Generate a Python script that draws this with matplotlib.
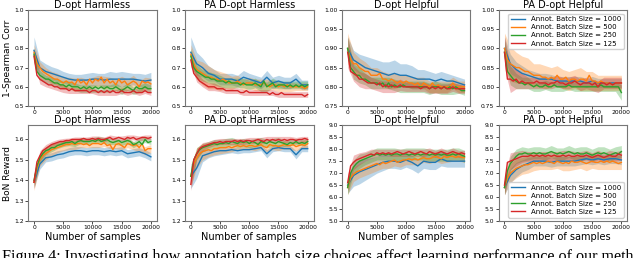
import numpy as np
import matplotlib.pyplot as plt

# x grids (blue logged every 1000 samples, the others every 500)
x_coarse = np.arange(0, 20001, 1000)
x_fine = np.arange(0, 20001, 500)

titles = ["D-opt Harmless", "PA D-opt Harmless", "D-opt Helpful", "PA D-opt Helpful"] * 2
labels = ["Annot. Batch Size = 1000", "Annot. Batch Size = 500",
          "Annot. Batch Size = 250", "Annot. Batch Size = 125"]
colors = ["#1f77b4", "#ff7f0e", "#2ca02c", "#d62728"]

# ---- top row: 1-Spearman Corr ----
p1_blue = [0.79, 0.70, 0.68, 0.67, 0.66, 0.65, 0.64, 0.635, 0.635, 0.635, 0.64, 0.64, 0.635,
           0.64, 0.64, 0.64, 0.64, 0.64, 0.635, 0.63, 0.635]
p1_orange = [0.78, 0.72, 0.70, 0.68, 0.67, 0.66, 0.65, 0.64, 0.64, 0.63, 0.62, 0.63, 0.62, 0.625,
             0.61, 0.64, 0.62, 0.63, 0.61, 0.64, 0.62, 0.64, 0.63, 0.65, 0.62, 0.64, 0.62, 0.63,
             0.61, 0.64, 0.62, 0.63, 0.61, 0.62, 0.63, 0.62, 0.60, 0.63, 0.62, 0.625, 0.615]
p1_green = [0.77, 0.68, 0.66, 0.65, 0.64, 0.64, 0.63, 0.62, 0.62, 0.61, 0.61, 0.60, 0.61, 0.60,
            0.60, 0.60, 0.59, 0.60, 0.59, 0.60, 0.59, 0.60, 0.59, 0.60, 0.59, 0.60, 0.59, 0.59,
            0.60, 0.59, 0.58, 0.59, 0.60, 0.59, 0.58, 0.60, 0.59, 0.59, 0.60, 0.59, 0.59]
p1_red = [0.76, 0.66, 0.64, 0.63, 0.62, 0.61, 0.61, 0.60, 0.60, 0.59, 0.59, 0.59, 0.58, 0.59,
          0.58, 0.58, 0.58, 0.58, 0.58, 0.57, 0.58, 0.58, 0.57, 0.58, 0.57, 0.58, 0.57, 0.58,
          0.57, 0.57, 0.58, 0.57, 0.57, 0.57, 0.58, 0.57, 0.57, 0.57, 0.58, 0.57, 0.57]

p2_blue = [0.78, 0.72, 0.70, 0.67, 0.66, 0.64, 0.64, 0.64, 0.63, 0.65, 0.64, 0.63, 0.62, 0.65,
           0.62, 0.63, 0.62, 0.62, 0.64, 0.61, 0.61]
p2_orange = [0.77, 0.72, 0.69, 0.68, 0.67, 0.66, 0.65, 0.65, 0.64, 0.64, 0.63, 0.64, 0.63, 0.62,
             0.62, 0.62, 0.63, 0.62, 0.61, 0.62, 0.62, 0.62, 0.61, 0.61, 0.61, 0.62, 0.61, 0.60,
             0.61, 0.61, 0.60, 0.61, 0.60, 0.61, 0.60, 0.60, 0.60, 0.60, 0.60, 0.59, 0.60]
p2_green = [0.76, 0.70, 0.68, 0.67, 0.66, 0.65, 0.65, 0.64, 0.64, 0.63, 0.63, 0.63, 0.62, 0.63,
            0.62, 0.62, 0.62, 0.61, 0.62, 0.61, 0.61, 0.61, 0.62, 0.61, 0.60, 0.63, 0.60, 0.61,
            0.62, 0.60, 0.61, 0.61, 0.61, 0.60, 0.61, 0.60, 0.61, 0.60, 0.61, 0.60, 0.61]
p2_red = [0.74, 0.67, 0.65, 0.63, 0.62, 0.61, 0.60, 0.60, 0.60, 0.59, 0.59, 0.59, 0.58, 0.58,
          0.58, 0.58, 0.58, 0.57, 0.57, 0.58, 0.57, 0.57, 0.57, 0.57, 0.57, 0.57, 0.57, 0.56,
          0.57, 0.56, 0.56, 0.57, 0.56, 0.56, 0.56, 0.56, 0.56, 0.56, 0.56, 0.55, 0.56]

p3_blue = [0.90, 0.87, 0.86, 0.85, 0.845, 0.84, 0.835, 0.83, 0.835, 0.83, 0.83, 0.825, 0.82,
           0.82, 0.82, 0.815, 0.82, 0.815, 0.815, 0.81, 0.805]
p3_orange = [0.90, 0.87, 0.86, 0.86, 0.85, 0.845, 0.84, 0.84, 0.83, 0.83, 0.83, 0.835, 0.82,
             0.82, 0.815, 0.82, 0.815, 0.81, 0.815, 0.81, 0.815, 0.81, 0.81, 0.805, 0.81, 0.80,
             0.81, 0.805, 0.80, 0.81, 0.80, 0.805, 0.80, 0.80, 0.80, 0.80, 0.81, 0.80, 0.80,
             0.80, 0.80]
p3_green = [0.90, 0.85, 0.84, 0.83, 0.83, 0.82, 0.82, 0.815, 0.81, 0.81, 0.81, 0.805, 0.81,
            0.80, 0.81, 0.80, 0.805, 0.80, 0.80, 0.805, 0.80, 0.80, 0.80, 0.80, 0.80, 0.80,
            0.80, 0.80, 0.795, 0.80, 0.80, 0.80, 0.795, 0.80, 0.795, 0.80, 0.795, 0.80, 0.795,
            0.79, 0.79]
p3_red = [0.89, 0.84, 0.835, 0.83, 0.82, 0.82, 0.815, 0.81, 0.81, 0.81, 0.805, 0.81, 0.80,
          0.805, 0.80, 0.805, 0.80, 0.80, 0.805, 0.80, 0.80, 0.80, 0.80, 0.80, 0.80, 0.795,
          0.80, 0.80, 0.795, 0.80, 0.795, 0.80, 0.795, 0.80, 0.795, 0.795, 0.80, 0.795, 0.795,
          0.795, 0.795]

p4_blue = [0.90, 0.86, 0.845, 0.835, 0.83, 0.825, 0.82, 0.82, 0.82, 0.815, 0.815, 0.815, 0.815,
           0.815, 0.81, 0.815, 0.81, 0.81, 0.81, 0.81, 0.81]
p4_orange = [0.90, 0.87, 0.86, 0.855, 0.85, 0.85, 0.845, 0.84, 0.84, 0.835, 0.83, 0.83, 0.83,
             0.825, 0.825, 0.82, 0.825, 0.82, 0.83, 0.82, 0.82, 0.825, 0.815, 0.82, 0.82, 0.815,
             0.82, 0.82, 0.815, 0.83, 0.815, 0.815, 0.81, 0.815, 0.81, 0.81, 0.81, 0.805, 0.81,
             0.81, 0.81]
p4_green = [0.89, 0.84, 0.83, 0.82, 0.815, 0.81, 0.81, 0.805, 0.81, 0.805, 0.80, 0.805, 0.80,
            0.80, 0.805, 0.80, 0.80, 0.805, 0.80, 0.80, 0.80, 0.80, 0.805, 0.80, 0.80, 0.80,
            0.80, 0.80, 0.80, 0.80, 0.80, 0.80, 0.80, 0.805, 0.80, 0.80, 0.80, 0.80, 0.80, 0.80,
            0.785]
p4_red = [0.89, 0.82, 0.82, 0.815, 0.82, 0.81, 0.815, 0.81, 0.81, 0.81, 0.81, 0.815, 0.81,
          0.81, 0.81, 0.805, 0.81, 0.81, 0.815, 0.81, 0.81, 0.805, 0.81, 0.81, 0.815, 0.81,
          0.805, 0.81, 0.81, 0.81, 0.805, 0.81, 0.80, 0.81, 0.81, 0.805, 0.81, 0.805, 0.81,
          0.81, 0.81]

# ---- bottom row: BoN Reward ----
p5_blue = [1.39, 1.48, 1.51, 1.515, 1.525, 1.53, 1.54, 1.545, 1.545, 1.54, 1.545, 1.545, 1.54,
           1.545, 1.54, 1.545, 1.53, 1.535, 1.54, 1.53, 1.515]
p5_orange = [1.39, 1.46, 1.50, 1.52, 1.53, 1.54, 1.55, 1.555, 1.56, 1.565, 1.57, 1.575, 1.575,
             1.58, 1.575, 1.58, 1.58, 1.575, 1.58, 1.57, 1.58, 1.58, 1.58, 1.575, 1.585, 1.57,
             1.575, 1.55, 1.575, 1.58, 1.57, 1.56, 1.58, 1.575, 1.57, 1.575, 1.56, 1.58, 1.545,
             1.555, 1.555]
p5_green = [1.40, 1.47, 1.51, 1.53, 1.545, 1.55, 1.56, 1.56, 1.57, 1.575, 1.58, 1.585, 1.585,
            1.59, 1.58, 1.59, 1.595, 1.59, 1.59, 1.59, 1.595, 1.59, 1.60, 1.59, 1.595, 1.60,
            1.59, 1.585, 1.59, 1.595, 1.585, 1.59, 1.595, 1.59, 1.575, 1.58, 1.59, 1.575, 1.60,
            1.585, 1.59]
p5_red = [1.39, 1.49, 1.52, 1.545, 1.555, 1.565, 1.575, 1.58, 1.585, 1.59, 1.59, 1.595, 1.595,
          1.60, 1.60, 1.60, 1.60, 1.605, 1.60, 1.60, 1.605, 1.60, 1.605, 1.60, 1.60, 1.605,
          1.61, 1.60, 1.605, 1.61, 1.605, 1.60, 1.61, 1.605, 1.61, 1.60, 1.605, 1.61, 1.61,
          1.605, 1.61]

p6_blue = [1.42, 1.46, 1.52, 1.53, 1.54, 1.545, 1.545, 1.55, 1.545, 1.55, 1.55, 1.555, 1.56,
           1.53, 1.555, 1.56, 1.555, 1.555, 1.525, 1.555, 1.555]
p6_orange = [1.42, 1.48, 1.51, 1.53, 1.54, 1.545, 1.55, 1.545, 1.555, 1.555, 1.56, 1.56, 1.56,
             1.565, 1.56, 1.565, 1.57, 1.565, 1.57, 1.565, 1.57, 1.57, 1.565, 1.57, 1.575,
             1.565, 1.56, 1.575, 1.57, 1.57, 1.565, 1.57, 1.575, 1.57, 1.57, 1.575, 1.565,
             1.57, 1.575, 1.57, 1.58]
p6_green = [1.42, 1.50, 1.53, 1.55, 1.56, 1.565, 1.57, 1.575, 1.58, 1.575, 1.58, 1.58, 1.585,
            1.58, 1.59, 1.585, 1.58, 1.59, 1.585, 1.59, 1.58, 1.59, 1.585, 1.575, 1.59, 1.585,
            1.58, 1.59, 1.585, 1.58, 1.59, 1.585, 1.58, 1.575, 1.585, 1.58, 1.59, 1.58, 1.585,
            1.58, 1.59]
p6_red = [1.38, 1.50, 1.53, 1.555, 1.565, 1.57, 1.575, 1.58, 1.585, 1.585, 1.59, 1.585, 1.59,
          1.59, 1.59, 1.595, 1.59, 1.595, 1.59, 1.595, 1.595, 1.59, 1.595, 1.60, 1.595, 1.59,
          1.60, 1.595, 1.60, 1.595, 1.60, 1.595, 1.60, 1.595, 1.60, 1.60, 1.595, 1.60, 1.60,
          1.605, 1.60]

p7_blue = [6.5, 6.9, 7.05, 7.15, 7.25, 7.35, 7.45, 7.5, 7.5, 7.45, 7.55, 7.45, 7.3, 7.5, 7.45,
           7.45, 7.6, 7.5, 7.5, 7.5, 7.5]
p7_orange = [6.4, 6.8, 6.95, 7.05, 7.1, 7.15, 7.2, 7.25, 7.3, 7.35, 7.4, 7.35, 7.45, 7.4, 7.45,
             7.5, 7.55, 7.45, 7.5, 7.55, 7.55, 7.6, 7.55, 7.6, 7.55, 7.6, 7.65, 7.6, 7.6, 7.65,
             7.7, 7.65, 7.6, 7.7, 7.65, 7.7, 7.7, 7.65, 7.7, 7.65, 7.65]
p7_green = [6.4, 7.0, 7.25, 7.4, 7.5, 7.55, 7.6, 7.65, 7.7, 7.75, 7.8, 7.75, 7.8, 7.75, 7.8,
            7.75, 7.8, 7.8, 7.75, 7.8, 7.8, 7.75, 7.8, 7.75, 7.8, 7.75, 7.8, 7.8, 7.75, 7.8,
            7.75, 7.8, 7.75, 7.8, 7.75, 7.75, 7.8, 7.75, 7.8, 7.75, 7.7]
p7_red = [6.6, 7.3, 7.45, 7.55, 7.6, 7.65, 7.7, 7.75, 7.8, 7.75, 7.85, 7.8, 7.85, 7.8, 7.85,
          7.8, 7.85, 7.9, 7.85, 7.8, 7.85, 7.9, 7.85, 7.8, 7.85, 7.9, 7.85, 7.8, 7.9, 7.85,
          7.8, 7.85, 7.9, 7.85, 7.8, 7.85, 7.9, 7.85, 7.8, 7.85, 7.8]

p8_blue = [6.4, 6.9, 7.15, 7.3, 7.4, 7.5, 7.5, 7.5, 7.45, 7.5, 7.5, 7.5, 7.5, 7.55, 7.6, 7.55,
           7.6, 7.55, 7.6, 7.6, 7.55]
p8_orange = [6.4, 6.8, 7.0, 7.1, 7.2, 7.25, 7.3, 7.35, 7.35, 7.4, 7.45, 7.4, 7.45, 7.4, 7.45,
             7.5, 7.45, 7.4, 7.5, 7.45, 7.4, 7.45, 7.4, 7.5, 7.45, 7.45, 7.5, 7.45, 7.4, 7.45,
             7.5, 7.45, 7.45, 7.5, 7.45, 7.5, 7.45, 7.5, 7.45, 7.4, 7.45]
p8_green = [6.4, 7.1, 7.4, 7.55, 7.7, 7.8, 7.8, 7.85, 7.8, 7.8, 7.85, 7.8, 7.85, 7.8, 7.8,
            7.85, 7.9, 7.85, 7.8, 7.85, 7.8, 7.85, 7.9, 7.85, 7.8, 7.85, 7.8, 7.8, 7.85, 7.8,
            7.75, 7.8, 7.85, 7.8, 7.85, 7.8, 7.75, 7.8, 7.85, 7.8, 7.9]
p8_red = [6.5, 7.45, 7.5, 7.55, 7.6, 7.65, 7.7, 7.7, 7.7, 7.75, 7.7, 7.75, 7.7, 7.75, 7.7,
          7.75, 7.7, 7.75, 7.7, 7.7, 7.75, 7.7, 7.75, 7.7, 7.7, 7.75, 7.7, 7.7, 7.75, 7.7,
          7.65, 7.7, 7.75, 7.7, 7.65, 7.7, 7.75, 7.7, 7.7, 7.8, 7.75]

# band half-widths, one value per 1000 samples (blue, orange, green, red)
bw1 = [[0.07, 0.04, 0.04, 0.035, 0.035, 0.03, 0.03, 0.03, 0.03, 0.035, 0.035, 0.03, 0.035, 0.04, 0.035, 0.04, 0.035, 0.03, 0.035, 0.035, 0.04],
       [0.04, 0.03, 0.03, 0.03, 0.03, 0.03, 0.03, 0.035, 0.03, 0.03, 0.03, 0.03, 0.035, 0.03, 0.03, 0.035, 0.03, 0.03, 0.03, 0.03, 0.03],
       [0.03, 0.025, 0.02, 0.02, 0.02, 0.02, 0.02, 0.02, 0.02, 0.02, 0.02, 0.02, 0.02, 0.02, 0.02, 0.02, 0.02, 0.02, 0.02, 0.02, 0.02],
       [0.03, 0.025, 0.02, 0.02, 0.02, 0.02, 0.015, 0.015, 0.015, 0.015, 0.015, 0.015, 0.015, 0.015, 0.015, 0.015, 0.015, 0.015, 0.015, 0.015, 0.015]]
bw2 = [[0.08, 0.06, 0.05, 0.04, 0.03, 0.03, 0.03, 0.03, 0.03, 0.035, 0.03, 0.03, 0.03, 0.035, 0.03, 0.03, 0.03, 0.03, 0.03, 0.025, 0.025],
       [0.05, 0.05, 0.06, 0.06, 0.05, 0.05, 0.04, 0.035, 0.03, 0.03, 0.03, 0.03, 0.03, 0.03, 0.025, 0.025, 0.025, 0.025, 0.02, 0.02, 0.02],
       [0.04, 0.035, 0.03, 0.03, 0.03, 0.03, 0.025, 0.025, 0.025, 0.025, 0.025, 0.025, 0.025, 0.025, 0.025, 0.02, 0.02, 0.02, 0.02, 0.02, 0.02],
       [0.03, 0.025, 0.02, 0.02, 0.02, 0.015, 0.015, 0.015, 0.015, 0.015, 0.015, 0.015, 0.015, 0.015, 0.015, 0.015, 0.015, 0.015, 0.015, 0.015, 0.015]]
bw3 = [[0.03, 0.025, 0.025, 0.03, 0.03, 0.03, 0.03, 0.035, 0.035, 0.03, 0.03, 0.03, 0.025, 0.025, 0.02, 0.02, 0.02, 0.02, 0.015, 0.015, 0.015],
       [0.04, 0.03, 0.025, 0.025, 0.02, 0.02, 0.02, 0.02, 0.02, 0.015, 0.015, 0.015, 0.015, 0.015, 0.015, 0.015, 0.015, 0.015, 0.015, 0.015, 0.015],
       [0.03, 0.02, 0.02, 0.015, 0.015, 0.015, 0.015, 0.015, 0.015, 0.015, 0.015, 0.015, 0.015, 0.015, 0.015, 0.015, 0.015, 0.015, 0.015, 0.012, 0.012],
       [0.04, 0.02, 0.02, 0.02, 0.015, 0.015, 0.015, 0.015, 0.015, 0.015, 0.012, 0.012, 0.012, 0.012, 0.012, 0.012, 0.012, 0.012, 0.012, 0.012, 0.012]]
bw4 = [[0.03, 0.025, 0.02, 0.02, 0.015, 0.015, 0.015, 0.015, 0.012, 0.012, 0.012, 0.012, 0.012, 0.012, 0.012, 0.012, 0.012, 0.012, 0.012, 0.012, 0.012],
       [0.04, 0.045, 0.04, 0.035, 0.035, 0.03, 0.03, 0.03, 0.025, 0.025, 0.025, 0.025, 0.025, 0.03, 0.025, 0.025, 0.02, 0.02, 0.02, 0.02, 0.02],
       [0.03, 0.025, 0.02, 0.015, 0.015, 0.012, 0.012, 0.012, 0.012, 0.012, 0.012, 0.012, 0.012, 0.012, 0.012, 0.012, 0.012, 0.012, 0.012, 0.012, 0.02],
       [0.04, 0.035, 0.025, 0.02, 0.015, 0.015, 0.015, 0.015, 0.015, 0.015, 0.015, 0.015, 0.015, 0.015, 0.015, 0.015, 0.015, 0.015, 0.015, 0.015, 0.015]]
bw5 = [[0.03, 0.025, 0.02, 0.02, 0.02, 0.02, 0.02, 0.02, 0.02, 0.02, 0.02, 0.02, 0.02, 0.02, 0.02, 0.02, 0.02, 0.02, 0.02, 0.02, 0.02],
       [0.04, 0.03, 0.03, 0.03, 0.025, 0.025, 0.025, 0.025, 0.02, 0.02, 0.02, 0.02, 0.02, 0.02, 0.02, 0.02, 0.02, 0.02, 0.02, 0.02, 0.02],
       [0.03, 0.025, 0.02, 0.02, 0.015, 0.015, 0.015, 0.015, 0.015, 0.015, 0.015, 0.015, 0.015, 0.015, 0.015, 0.015, 0.015, 0.015, 0.015, 0.015, 0.015],
       [0.03, 0.025, 0.02, 0.015, 0.015, 0.015, 0.012, 0.012, 0.012, 0.012, 0.012, 0.012, 0.012, 0.012, 0.012, 0.012, 0.012, 0.012, 0.012, 0.012, 0.012]]
bw6 = [[0.06, 0.05, 0.03, 0.02, 0.02, 0.02, 0.015, 0.015, 0.015, 0.015, 0.015, 0.015, 0.015, 0.02, 0.015, 0.015, 0.015, 0.015, 0.02, 0.015, 0.015],
       [0.05, 0.05, 0.04, 0.035, 0.03, 0.03, 0.025, 0.02, 0.02, 0.02, 0.02, 0.02, 0.02, 0.02, 0.02, 0.02, 0.02, 0.02, 0.02, 0.02, 0.02],
       [0.04, 0.03, 0.02, 0.02, 0.02, 0.02, 0.02, 0.02, 0.02, 0.02, 0.02, 0.02, 0.02, 0.02, 0.02, 0.02, 0.015, 0.015, 0.015, 0.015, 0.015],
       [0.03, 0.025, 0.02, 0.015, 0.015, 0.015, 0.015, 0.015, 0.015, 0.015, 0.015, 0.015, 0.015, 0.015, 0.015, 0.015, 0.015, 0.015, 0.015, 0.015, 0.015]]
bw7 = [[0.35, 0.45, 0.5, 0.45, 0.4, 0.35, 0.35, 0.3, 0.3, 0.3, 0.3, 0.3, 0.3, 0.3, 0.3, 0.3, 0.3, 0.25, 0.25, 0.25, 0.25],
       [0.3, 0.3, 0.3, 0.3, 0.3, 0.3, 0.25, 0.25, 0.25, 0.25, 0.2, 0.2, 0.2, 0.2, 0.2, 0.2, 0.2, 0.2, 0.2, 0.2, 0.2],
       [0.3, 0.3, 0.3, 0.25, 0.25, 0.25, 0.25, 0.25, 0.25, 0.25, 0.25, 0.25, 0.25, 0.25, 0.25, 0.25, 0.25, 0.25, 0.25, 0.25, 0.25],
       [0.35, 0.3, 0.25, 0.2, 0.2, 0.15, 0.15, 0.15, 0.15, 0.15, 0.15, 0.15, 0.15, 0.15, 0.15, 0.15, 0.15, 0.15, 0.15, 0.15, 0.15]]
bw8 = [[0.3, 0.3, 0.3, 0.25, 0.25, 0.2, 0.2, 0.2, 0.2, 0.2, 0.2, 0.2, 0.2, 0.2, 0.2, 0.2, 0.2, 0.2, 0.2, 0.2, 0.2],
       [0.3, 0.4, 0.4, 0.35, 0.35, 0.35, 0.3, 0.3, 0.3, 0.3, 0.3, 0.3, 0.3, 0.3, 0.3, 0.3, 0.3, 0.3, 0.3, 0.3, 0.3],
       [0.3, 0.3, 0.3, 0.3, 0.25, 0.25, 0.25, 0.25, 0.25, 0.25, 0.25, 0.25, 0.25, 0.3, 0.25, 0.25, 0.25, 0.25, 0.25, 0.25, 0.25],
       [0.4, 0.35, 0.3, 0.25, 0.2, 0.2, 0.2, 0.2, 0.2, 0.2, 0.2, 0.2, 0.2, 0.2, 0.2, 0.2, 0.2, 0.2, 0.2, 0.2, 0.2]]

panels = [
    (p1_blue, p1_orange, p1_green, p1_red, bw1),
    (p2_blue, p2_orange, p2_green, p2_red, bw2),
    (p3_blue, p3_orange, p3_green, p3_red, bw3),
    (p4_blue, p4_orange, p4_green, p4_red, bw4),
    (p5_blue, p5_orange, p5_green, p5_red, bw5),
    (p6_blue, p6_orange, p6_green, p6_red, bw6),
    (p7_blue, p7_orange, p7_green, p7_red, bw7),
    (p8_blue, p8_orange, p8_green, p8_red, bw8),
]
ylims = [(0.5, 1.0), (0.5, 1.0), (0.75, 1.0), (0.75, 1.0),
         (1.2, 1.67), (1.2, 1.67), (5.0, 9.0), (5.0, 9.0)]

fig, axes = plt.subplots(2, 4, figsize=(6.4, 2.58), dpi=100)
fig.subplots_adjust(left=0.044, right=0.98, top=0.961, bottom=0.143, wspace=0.22, hspace=0.2)

for i, ax in enumerate(axes.flat):
    blue, orange, green, red, bws = panels[i]
    series = [(x_coarse, blue), (x_fine, orange), (x_fine, green), (x_fine, red)]
    for k, (xs, ys) in enumerate(series):
        ys = np.array(ys)
        band = np.array(bws[k])
        # band drawn on its own 1000-sample grid, using the series mean there
        yb = ys if len(ys) == len(x_coarse) else ys[::2]
        ax.fill_between(x_coarse, yb - band, yb + band, color=colors[k], alpha=0.3, lw=0)
        ax.plot(xs, ys, color=colors[k], lw=1.0, label=labels[k])
    ax.set_ylim(*ylims[i])
    ax.set_xticks([0, 5000, 10000, 15000, 20000])
    if i in (2, 3):
        ax.set_yticks([0.75, 0.80, 0.85, 0.90, 0.95, 1.00])
        ax.yaxis.set_major_formatter(plt.FormatStrFormatter('%.2f'))
    elif i in (0, 1):
        ax.set_yticks([0.5, 0.6, 0.7, 0.8, 0.9, 1.0])
    elif i in (4, 5):
        ax.set_yticks([1.2, 1.3, 1.4, 1.5, 1.6])
    else:
        ax.set_yticks(np.arange(5.0, 9.01, 0.5))
    ax.tick_params(labelsize=4.3, length=2, width=0.5, pad=1)
    for s in ax.spines.values():
        s.set_color("#777777")
        s.set_linewidth(0.8)
    ax.set_title(titles[i], fontsize=7, pad=1.5)
    if i >= 4:
        ax.set_xlabel("Number of samples", fontsize=7, labelpad=1)

axes[0, 0].set_ylabel("1-Spearman Corr", fontsize=6.5, labelpad=2)
axes[1, 0].set_ylabel("BoN Reward", fontsize=6.5, labelpad=2)
axes[0, 3].legend(loc="upper right", fontsize=5, handlelength=2.0, borderpad=0.4,
                  labelspacing=0.3, framealpha=0.9)
axes[1, 3].legend(loc="lower right", fontsize=5, handlelength=2.0, borderpad=0.4,
                  labelspacing=0.3, framealpha=0.9)

# figure caption, cut off at the bottom as in the source page
fig.text(0.003, 0.035, "Figure 4: Investigating how annotation batch size choices affect learning performance of our meth",
         fontsize=11.6, family="Liberation Serif", va="top", ha="left")

fig.savefig("out.png", dpi=100)
